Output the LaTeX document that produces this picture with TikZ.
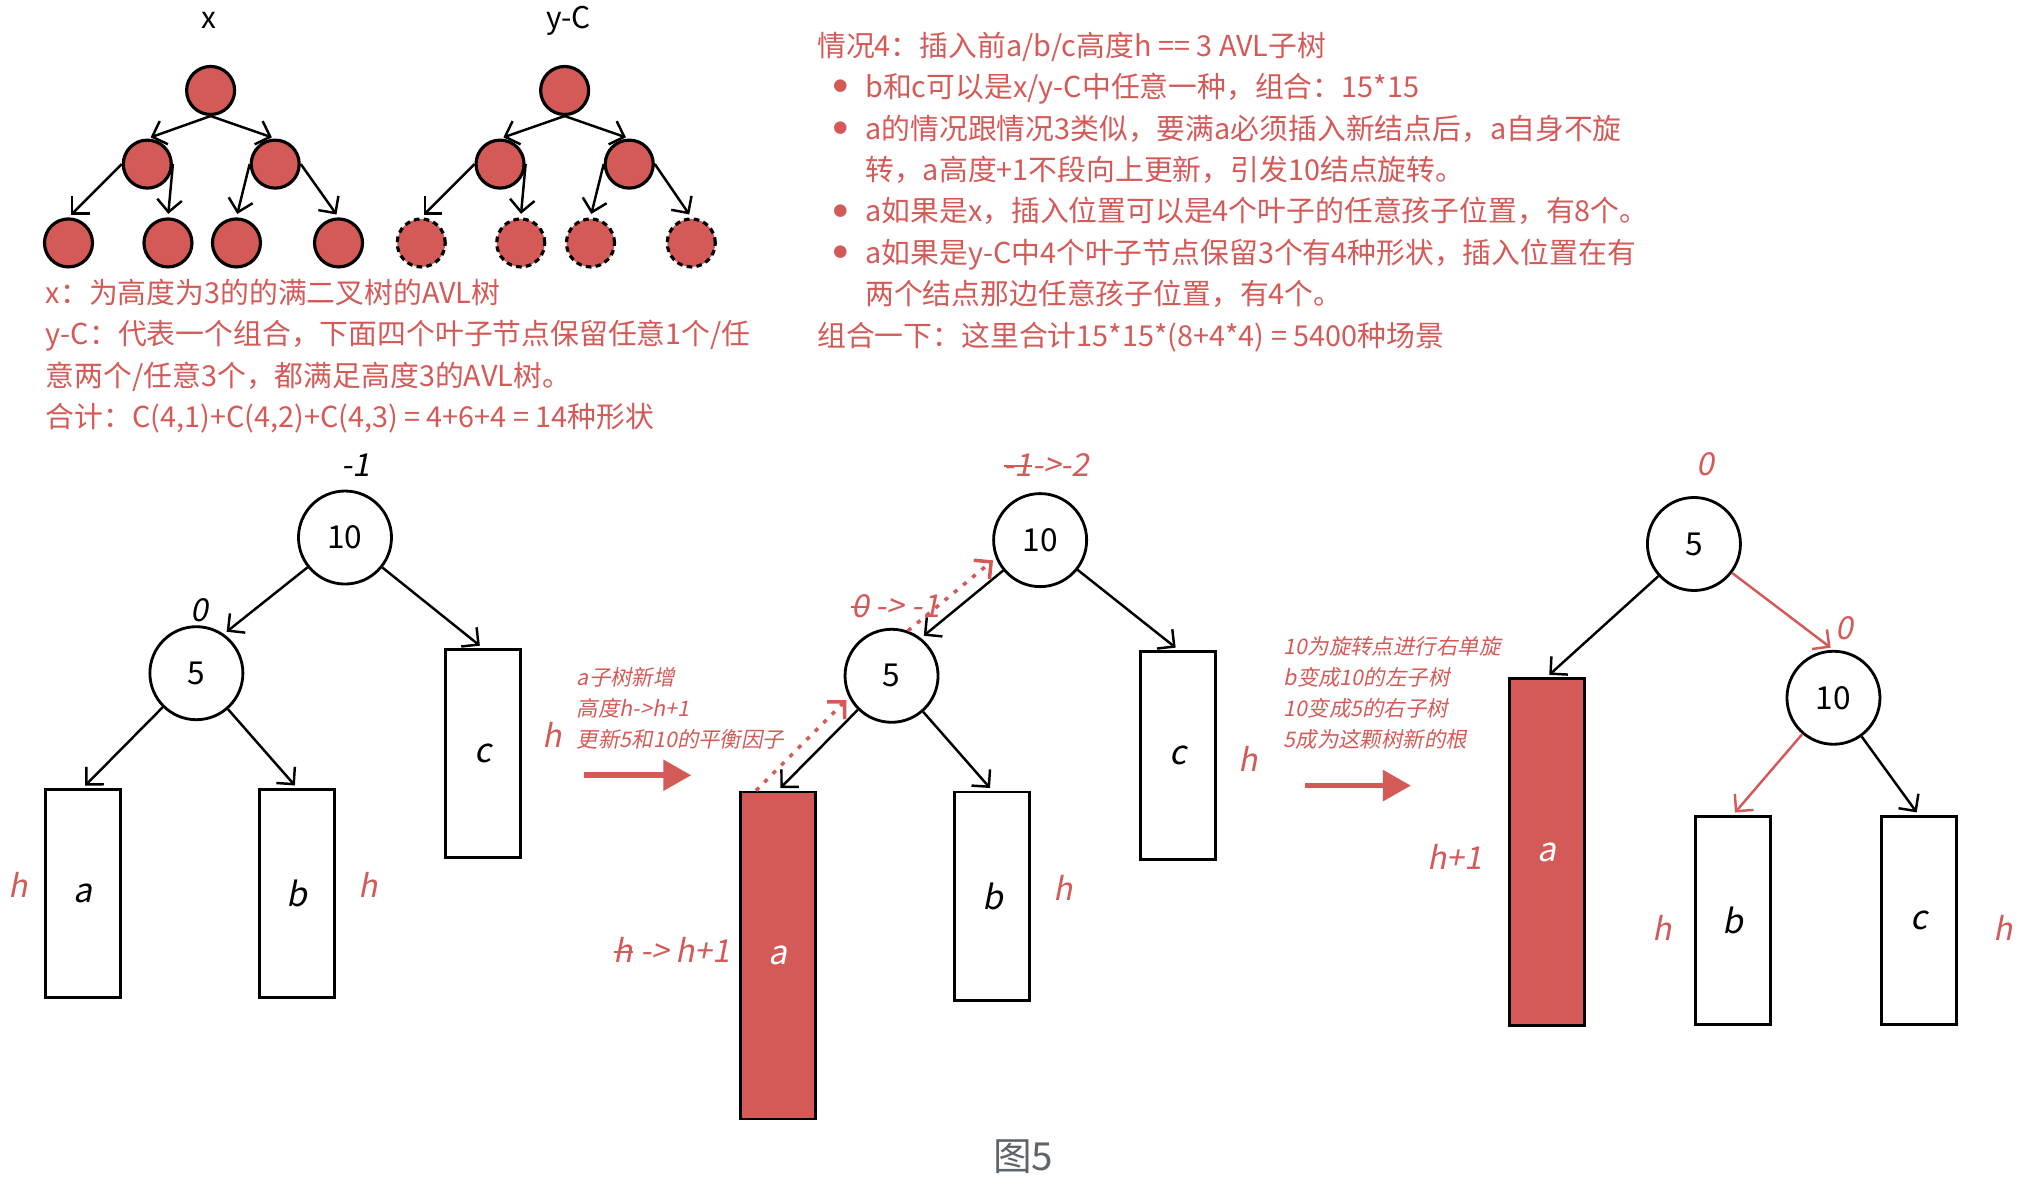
\documentclass[tikz,border=0pt]{standalone}
\usepackage{fontspec}
\usepackage{tikz}
\usetikzlibrary{arrows.meta, positioning}
\setmainfont{Noto Sans CJK SC}
\newfontfamily\slfont[FakeSlant=0.2]{Noto Sans CJK SC}
\definecolor{avlred}{RGB}{212,90,88}
\definecolor{capgray}{RGB}{96,100,108}
\newcommand{\bul}{\hspace*{1.6mm}\makebox[3.2mm][l]{\raisebox{1.6pt}{\fontsize{4}{4}\selectfont ●}}}
\newcommand{\cont}{\hspace*{4.8mm}}
\newsavebox{\strkbox}
\newcommand{\strk}[1]{\sbox{\strkbox}{#1}\rlap{\usebox{\strkbox}}\rule[0.3em]{\wd\strkbox}{0.55pt}}

\begin{document}
\begin{tikzpicture}[
        x=0.1292mm, y=-0.1292mm,
        dot/.style={circle, draw, line width=0.9pt, fill=avlred, minimum size=4.8mm, inner sep=0pt},
        ghost/.style={dot, dash pattern=on 1.6pt off 1.2pt},
        knot/.style={circle, draw, line width=0.8pt, minimum size=9.3mm, inner sep=0pt, font=\fontsize{9}{10}\selectfont},
        sub/.style={draw, line width=0.8pt, minimum width=7.5mm, minimum height=20.8mm, inner sep=0pt, font=\slfont\fontsize{9.5}{10}\selectfont},
        hot/.style={sub, fill=avlred, text=white},
        bf/.style={font=\slfont\fontsize{9}{10}\selectfont, inner sep=0pt},
        redbf/.style={bf, text=avlred},
        title/.style={font=\fontsize{8.5}{10}\selectfont, inner sep=0pt},
        note/.style={text=avlred, align=left, anchor=west, inner sep=0pt, font=\fontsize{8.2}{11.8}\selectfont},
        memo/.style={text=avlred, align=left, anchor=west, inner sep=0pt, font=\slfont\fontsize{6.1}{8.8}\selectfont},
        link/.style={-{Straight Barb[length=3.5pt,width=7pt]}, line width=0.7pt, shorten >=1pt},
        redlink/.style={link, draw=avlred},
        trace/.style={redlink, dash pattern=on 1.2pt off 2.2pt, line width=1pt},
        bigarrow/.style={-{Triangle[length=2.8mm,width=3mm]}, line width=1.6pt, draw=avlred}
    ]
    \useasboundingbox (0,0) rectangle (1568,917);

    % full tree x
    \node (xname) [title] at (162,16) {x};
    \node (xroot) [dot] at (163,70) {};
    \node (xl) [dot] at (114,127) {};
    \node (xr) [dot] at (213,127) {};
    \foreach \i/\px in {1/53,2/130,3/183,4/262}
        \node (xleaf\i) [dot] at (\px,188) {};
    \draw[link] (xroot.south) -- (xl.north);
    \draw[link] (xroot.south) -- (xr.north);
    \draw[link] (xl.west) -- (xleaf1.north);
    \draw[link] (xl.east) -- (xleaf2.north);
    \draw[link] (xr.west) -- (xleaf3.north);
    \draw[link] (xr.east) -- (xleaf4.north);

    % tree y-C, leaves optional
    \node (yname) [title] at (440,16) {y-C};
    \node (yroot) [dot] at (437,70) {};
    \node (yl) [dot] at (387,127) {};
    \node (yr) [dot] at (487,127) {};
    \foreach \i/\px in {1/326,2/403,3/457,4/535}
        \node (yleaf\i) [ghost] at (\px,188) {};
    \draw[link] (yroot.south) -- (yl.north);
    \draw[link] (yroot.south) -- (yr.north);
    \draw[link] (yl.west) -- (yleaf1.north);
    \draw[link] (yl.east) -- (yleaf2.north);
    \draw[link] (yr.west) -- (yleaf3.north);
    \draw[link] (yr.east) -- (yleaf4.north);

    \node (xnote) [note] at (35,275.5) {x：为高度为3的的满二叉树的AVL树\\%
        y-C：代表一个组合，下面四个叶子节点保留任意1个/任\\%
        意两个/任意3个，都满足高度3的AVL树。\\%
        合计：C(4,1)+C(4,2)+C(4,3) = 4+6+4 = 14种形状};

    \node (case) [note] at (632,148.5) {情况4：插入前a/b/c高度h == 3 AVL子树\\%
        \bul b和c可以是x/y-C中任意一种，组合：15*15\\%
        \bul a的情况跟情况3类似，要满a必须插入新结点后，a自身不旋\\%
        \cont 转，a高度+1不段向上更新，引发10结点旋转。\\%
        \bul a如果是x，插入位置可以是4个叶子的任意孩子位置，有8个。\\%
        \bul a如果是y-C中4个叶子节点保留3个有4种形状，插入位置在有\\%
        \cont 两个结点那边任意孩子位置，有4个。\\%
        组合一下：这里合计15*15*(8+4*4) = 5400种场景};

    % before insertion
    \node (t10) [knot] at (267,416) {10};
    \node (t5) [knot] at (152,521) {5};
    \node (ta) [sub] at (64,691.5) {a};
    \node (tb) [sub] at (230,691.5) {b};
    \node (tc) [sub] at (373.5,583) {c};
    \node (t10bf) [bf] at (275,360) {-1};
    \node (t5bf) [bf] at (154,472) {0};
    \node (tah) [redbf] at (14,685) {h};
    \node (tbh) [redbf] at (285,685) {h};
    \node (tch) [redbf] at (427,569) {h};
    \draw[link] (t10) -- (t5.55);
    \draw[link] (t10) -- (tc.north);
    \draw[link] (t5) -- (ta.north);
    \draw[link] (t5) -- (tb.north);

    % insert into a
    \coordinate (go1) at (452,600);
    \coordinate (go1end) at (535,600);
    \draw[bigarrow] (go1) -- (go1end);
    \node (grow) [memo] at (446,548) {a子树新增\\高度h->h+1\\更新5和10的平衡因子};

    % after insertion
    \node (m10) [knot] at (805,418) {10};
    \node (m5) [knot] at (690,523) {5};
    \node (ma) [hot, minimum height=32.7mm] at (602,739.5) {a};
    \node (mb) [sub] at (768,693.5) {b};
    \node (mc) [sub] at (912,584.5) {c};
    \node (m10bf) [redbf] at (810,360) {\strk{-1}->-2};
    \node (m5bf) [redbf] at (693,469) {\strk{0} -> -1};
    \node (mah) [redbf] at (520,735) {\strk{h} -> h+1};
    \node (mbh) [redbf] at (823,687) {h};
    \node (mch) [redbf] at (966,587) {h};
    \draw[link] (m10) -- (m5.52);
    \draw[link] (m10) -- (mc.north);
    \draw[link] (m5) -- (ma.north);
    \draw[link] (m5) -- (mb.north);
    \draw[trace] ([xshift=1.7mm]ma.north west) -- (m5.207);
    \draw[trace] (m5.70) -- (m10.202);

    % right rotation
    \coordinate (go2) at (1010,608);
    \coordinate (go2end) at (1092,608);
    \draw[bigarrow] (go2) -- (go2end);
    \node (spin) [memo] at (993,536) {10为旋转点进行右单旋\\b变成10的左子树\\10变成5的右子树\\5成为这颗树新的根};

    % after rotation
    \node (r5) [knot] at (1311,421) {5};
    \node (r10) [knot] at (1419,540) {10};
    \node (ra) [hot, minimum height=34.7mm] at (1197,659.5) {a};
    \node (rb) [sub] at (1341,712.5) {b};
    \node (rc) [sub] at (1485,712.5) {c};
    \node (r5bf) [redbf] at (1320,359) {0};
    \node (r10bf) [redbf] at (1427,486) {0};
    \node (rah) [redbf] at (1126,663) {h+1};
    \node (rbh) [redbf] at (1286,718) {h};
    \node (rch) [redbf] at (1550,718) {h};
    \draw[link] (r5) -- (ra.north);
    \draw[redlink] (r5) -- (r10.north);
    \draw[redlink] (r10) -- (rb.north);
    \draw[link] (r10) -- (rc.north);

    \node (cap) [font=\fontsize{11}{12}\selectfont, text=capgray] at (792,895) {图5};
\end{tikzpicture}
\end{document}
